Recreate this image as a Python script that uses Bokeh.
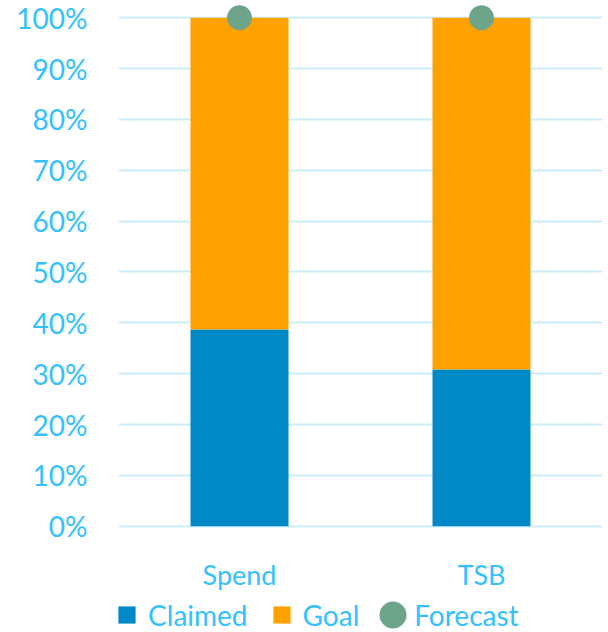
from bokeh.plotting import figure
from bokeh.models import (FactorRange, Range1d, FixedTicker, NumeralTickFormatter,
                          Legend, LegendItem, ColumnDataSource)
from bokeh.core.properties import value
from bokeh.embed import file_html
from bokeh.resources import INLINE

# ---- data ----
categories = ["Spend", "TSB"]
claimed = [0.387, 0.308]
goal = [0.613, 0.692]
forecast = [1.0, 1.0]
tick_values = [0.0, 0.1, 0.2, 0.3, 0.4, 0.5, 0.6, 0.7, 0.8, 0.9, 1.0]

# ---- styles ----
BLUE = "#0089C6"
ORANGE = "#FFA100"
GREEN = "#6EA58A"
TEXT = "#33C1FF"
GRID = "#CCEEFA"
FONT = "Lato"

src = ColumnDataSource(dict(cat=categories, claimed=claimed, goal=goal, forecast=forecast))

p = figure(x_range=FactorRange(factors=categories), y_range=Range1d(-0.2091, 1.034),
           width=608, height=632, output_backend="svg", toolbar_location=None,
           min_border_left=118, min_border_right=6, min_border_top=0, min_border_bottom=0)
p.outline_line_color = None
p.background_fill_color = "white"
p.border_fill_color = "white"

p.vbar_stack(["claimed", "goal"], x="cat", width=0.405, color=[BLUE, ORANGE],
             line_color=None, source=src)
# forecast dots: fill + same-colour outline (visible diameter 25 px)
r_fc = p.scatter(x="cat", y="forecast", size=15.2, fill_color=GREEN, line_color=GREEN,
                 line_width=9.8, source=src)

# category labels
p.text(x="cat", y=0, text="cat", source=src, y_offset=48, text_align="center",
       text_baseline="alphabetic", text_font=value(FONT), text_font_size=value("27px"),
       text_color=TEXT)

# legend swatches (zero-size markers: only visible in the legend)
d_claimed = p.scatter(x="cat", y="claimed", size=0, marker="square", fill_color=BLUE,
                      line_color=None, source=src)
d_goal = p.scatter(x="cat", y="claimed", size=0, marker="square", fill_color=ORANGE,
                   line_color=None, source=src)

# grid
p.xgrid.visible = False
p.ygrid.ticker = FixedTicker(ticks=tick_values)
p.ygrid.grid_line_color = GRID
p.ygrid.grid_line_width = 2

# axes
p.xaxis.visible = False
p.yaxis.ticker = FixedTicker(ticks=tick_values)
p.yaxis.formatter = NumeralTickFormatter(format="0%")
p.yaxis.axis_line_color = None
p.yaxis.major_tick_line_color = None
p.yaxis.minor_tick_line_color = None
p.yaxis.major_tick_out = 0
p.yaxis.major_tick_in = 0
p.yaxis.major_label_standoff = 31
p.yaxis.major_label_text_font = FONT
p.yaxis.major_label_text_font_size = "28px"
p.yaxis.major_label_text_color = TEXT

legend = Legend(items=[LegendItem(label="Claimed", renderers=[d_claimed]),
                       LegendItem(label="Goal", renderers=[d_goal]),
                       LegendItem(label="Forecast", renderers=[r_fc])],
                location=(-12.9, -4), orientation="horizontal", padding=0, margin=0,
                glyph_width=43, glyph_height=43, label_height=43, label_standoff=0,
                spacing=12, background_fill_alpha=0, border_line_color=None,
                label_text_font=FONT, label_text_font_size="28px", label_text_color=TEXT)
p.add_layout(legend)

open("out.html", "w").write(file_html(p, INLINE))
